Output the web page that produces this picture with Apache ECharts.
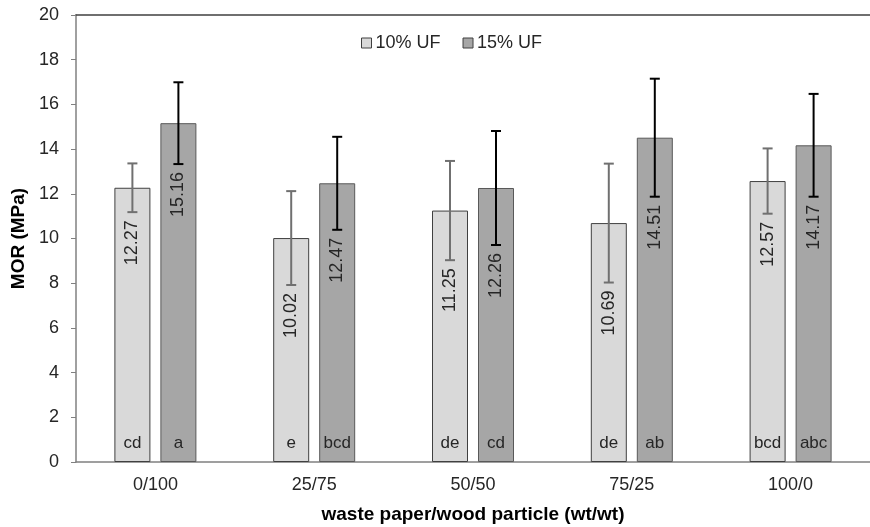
<!DOCTYPE html>
<html><head><meta charset="utf-8">
<script src="https://cdn.jsdelivr.net/npm/echarts@6/dist/echarts.min.js"></script>
<style>html,body{margin:0;padding:0;background:#fff}#c{width:870px;height:527px}</style>
</head><body><div id="c"></div>
<script>
var categories = ['0/100', '25/75', '50/50', '75/25', '100/0'];
var uf10 = [12.27, 10.02, 11.25, 10.69, 12.57];
var uf15 = [15.16, 12.47, 12.26, 14.51, 14.17];
var err10 = [1.09, 2.1, 2.22, 2.66, 1.46];
var err15 = [1.83, 2.08, 2.55, 2.64, 2.3];
var letters10 = ['cd', 'e', 'de', 'de', 'bcd'];
var letters15 = ['a', 'bcd', 'cd', 'ab', 'abc'];
var yTicks = [0, 2, 4, 6, 8, 10, 12, 14, 16, 18, 20];

var FONT = '"Liberation Sans", Arial, sans-serif';
var BAR_W = 36, GAP = 10;
var chart = echarts.init(document.getElementById('c'));

var errData = categories.map(function (c, i) { return [i, uf10[i], err10[i], uf15[i], err15[i]]; });

function renderErr(params, api) {
  var i = api.value(0);
  var children = [];
  var sets = [
    { v: api.value(1), e: api.value(2), off: -(BAR_W + GAP) / 2, color: '#707070' },
    { v: api.value(3), e: api.value(4), off: (BAR_W + GAP) / 2, color: '#000000' }
  ];
  sets.forEach(function (s) {
    var top = api.coord([i, s.v + s.e]);
    var bot = api.coord([i, s.v - s.e]);
    var x = top[0] + s.off;
    var lw = 2, cap = 5;
    children.push({ type: 'line', shape: { x1: x, y1: top[1], x2: x, y2: bot[1] }, style: { stroke: s.color, lineWidth: lw } });
    children.push({ type: 'line', shape: { x1: x - cap, y1: top[1], x2: x + cap, y2: top[1] }, style: { stroke: s.color, lineWidth: lw } });
    children.push({ type: 'line', shape: { x1: x - cap, y1: bot[1], x2: x + cap, y2: bot[1] }, style: { stroke: s.color, lineWidth: lw } });
    children.push({ type: 'text', x: x, y: bot[1] + 8, rotation: Math.PI / 2,
      style: { text: s.v.toFixed(2), x: 0, y: 0, align: 'right', verticalAlign: 'middle', fontSize: 18, fontFamily: FONT, fill: '#262626' } });
  });
  return { type: 'group', children: children };
}

var option = {
  animation: false,
  textStyle: { fontFamily: FONT },
  legend: {
    data: ['10% UF', '15% UF'],
    top: 29, left: 356, itemWidth: 10, itemHeight: 10, itemGap: 22,
    icon: 'rect',
    textStyle: { fontSize: 18, color: '#262626', fontFamily: FONT, padding: [0, 0, 0, -1] },
    itemStyle: { borderColor: '#404040', borderWidth: 1 }
  },
  grid: { left: 76, right: 0, top: 15, bottom: 65, outerBoundsMode: 'none', containLabel: false },
  xAxis: [{
    type: 'category', data: categories,
    axisLine: { lineStyle: { color: '#808080', width: 1.5 } },
    axisTick: { show: false },
    axisLabel: { fontSize: 18, color: '#262626', margin: 14, fontFamily: FONT },
    name: 'waste paper/wood particle (wt/wt)', nameLocation: 'middle', nameGap: 43,
    nameTextStyle: { fontSize: 19, fontWeight: 'bold', color: '#000000', fontFamily: FONT }
  }, {
    type: 'category', data: categories, position: 'top',
    axisLine: { lineStyle: { color: '#404040', width: 1.5 } },
    axisTick: { show: false }, axisLabel: { show: false }
  }],
  yAxis: {
    type: 'value', min: yTicks[0], max: yTicks[yTicks.length - 1], interval: 2,
    axisLine: { show: true, lineStyle: { color: '#808080', width: 1.5 } },
    axisTick: { show: true, length: 5, lineStyle: { color: '#808080' } },
    splitLine: { show: false },
    axisLabel: { fontSize: 18, color: '#262626', margin: 17, fontFamily: FONT },
    name: 'MOR (MPa)', nameLocation: 'middle', nameGap: 47,
    nameTextStyle: { fontSize: 19, fontWeight: 'bold', color: '#000000', fontFamily: FONT }
  },
  series: [{
    name: '10% UF', type: 'bar', barWidth: BAR_W, barGap: (GAP / BAR_W * 100) + '%',
    itemStyle: { color: '#d9d9d9', borderColor: '#404040', borderWidth: 1 },
    data: uf10.map(function (v, i) { return { value: v, label: { formatter: letters10[i] } }; }),
    label: { show: true, position: 'insideBottom', distance: 10, fontSize: 17, color: '#262626', fontFamily: FONT }
  }, {
    name: '15% UF', type: 'bar', barWidth: BAR_W,
    itemStyle: { color: '#a6a6a6', borderColor: '#595959', borderWidth: 1 },
    data: uf15.map(function (v, i) { return { value: v, label: { formatter: letters15[i] } }; }),
    label: { show: true, position: 'insideBottom', distance: 10, fontSize: 17, color: '#262626', fontFamily: FONT }
  }, {
    type: 'custom', renderItem: renderErr, data: errData, z: 10,
    encode: { x: 0, y: [1, 3] }, silent: true
  }]
};
chart.setOption(option);
</script></body></html>
